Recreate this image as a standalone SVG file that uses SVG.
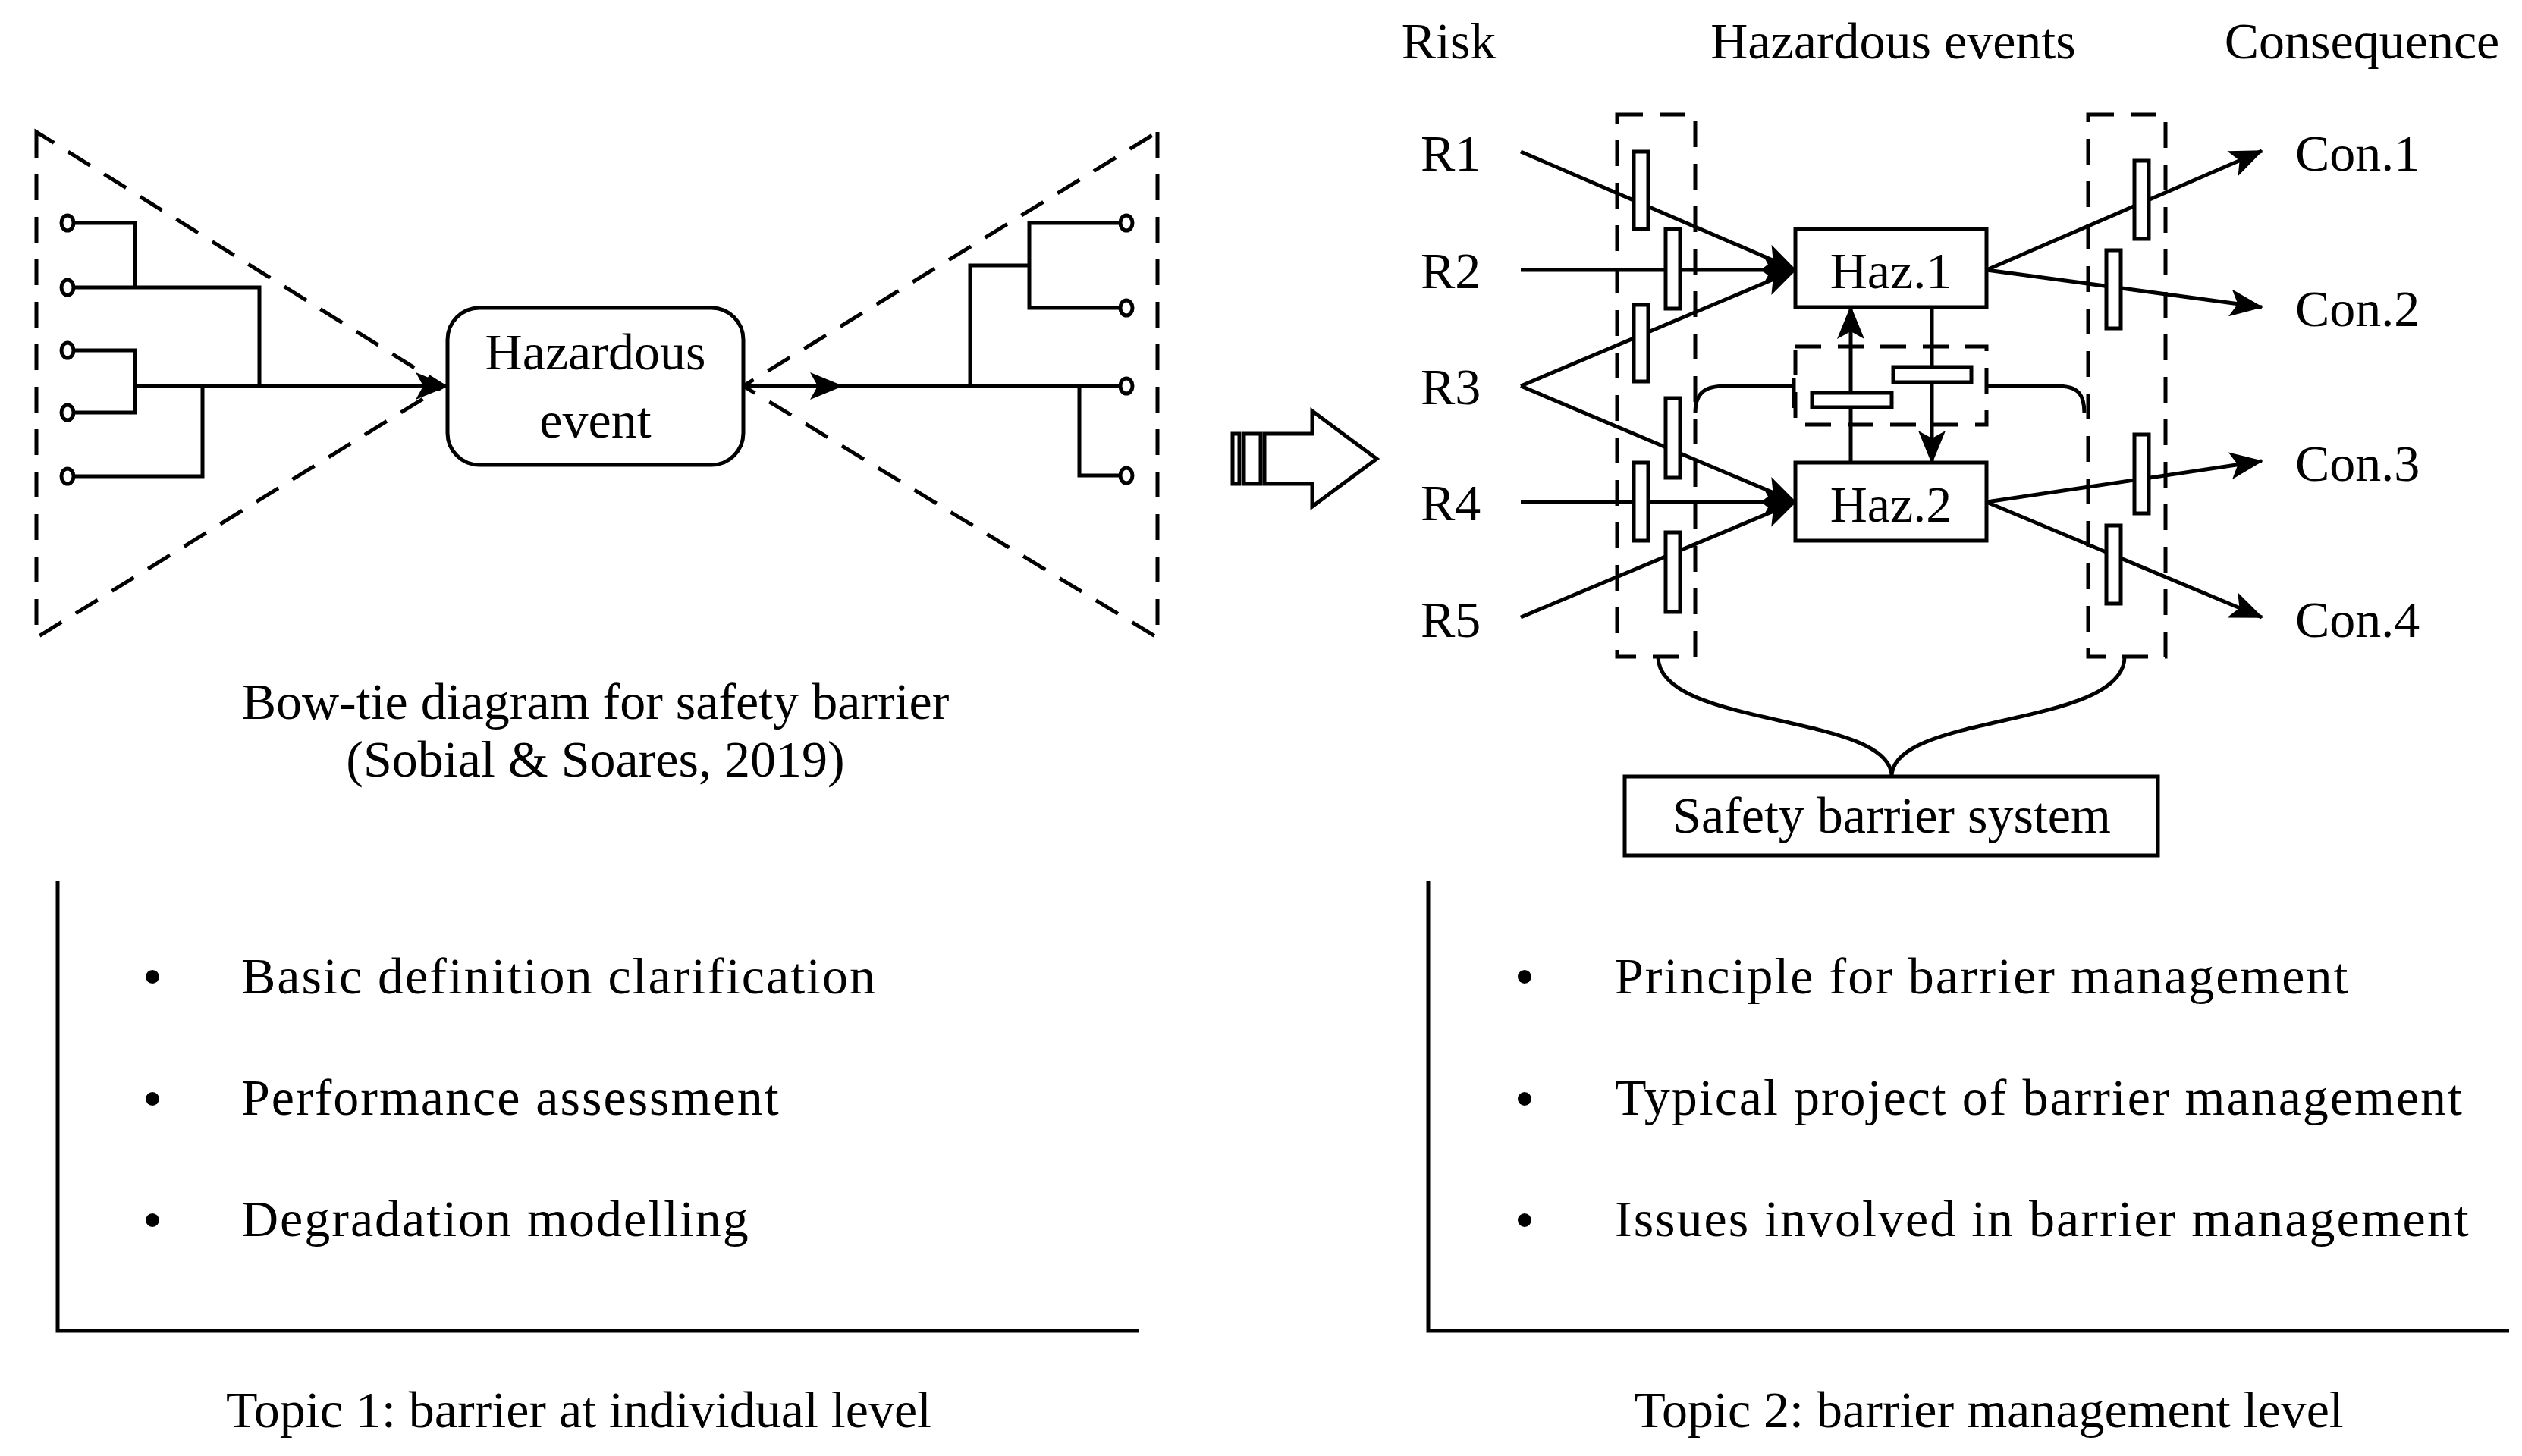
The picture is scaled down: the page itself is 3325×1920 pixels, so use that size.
<svg xmlns="http://www.w3.org/2000/svg" width="3325" height="1920" viewBox="0 0 3325 1920">
<style>
text{font-family:"Liberation Serif","Times New Roman",serif;fill:#000;font-size:68px}
.c{text-anchor:middle}
.s{fill:none;stroke:#000;stroke-width:5}
.t{fill:none;stroke:#000;stroke-width:6}
.d{fill:none;stroke:#000;stroke-width:5;stroke-dasharray:34 22}
.b{fill:#fff;stroke:#000;stroke-width:5}
</style>
<defs>
<marker id="ah" markerUnits="userSpaceOnUse" markerWidth="44" markerHeight="36" refX="42" refY="18" orient="auto"><path d="M0,0 L44,18 L0,36 L10,18 Z" fill="#000"/></marker>
</defs>
<rect width="3325" height="1920" fill="#fff"/>

<g id="bowtie">
<path class="d" d="M48,174 V841 L585,509 Z"/>
<path class="d" d="M1526,174 V841 L980,509 Z"/>
<g class="s">
<path d="M96,294 H178 V379 M96,379 H342 V509 M96,462 H178 V544 H96 M96,628 H267 V509"/>
<path d="M1477,294 H1357 V406 H1477 M1357,350 H1279 V509 M1477,627 H1423 V509"/>
</g>
<g fill="#fff" stroke="#000" stroke-width="5">
<ellipse cx="89" cy="294" rx="8" ry="10"/><ellipse cx="89" cy="379" rx="8" ry="10"/><ellipse cx="89" cy="462" rx="8" ry="10"/><ellipse cx="89" cy="544" rx="8" ry="10"/><ellipse cx="89" cy="628" rx="8" ry="10"/>
<ellipse cx="1485" cy="294" rx="8" ry="10"/><ellipse cx="1485" cy="406" rx="8" ry="10"/><ellipse cx="1485" cy="509" rx="8" ry="10"/><ellipse cx="1485" cy="627" rx="8" ry="10"/>
</g>
<path class="t" d="M178,509 H590" marker-end="url(#ah)"/>
<path class="t" d="M980,509 H1110" marker-end="url(#ah)"/>
<path class="t" d="M1100,509 H1477"/>
</g>
<g id="hazardous-event">
<rect x="590" y="406" width="390" height="207" rx="42" class="b"/>
<text x="785" y="487" class="c">Hazardous</text>
<text x="785" y="577" class="c">event</text>
</g>
<text x="785" y="948" class="c">Bow-tie diagram for safety barrier</text>
<text x="785" y="1024" class="c">(Sobial &amp; Soares, 2019)</text>

<g id="panel1">
<path class="s" d="M76,1162 V1755 H1501"/>
<circle cx="201" cy="1288" r="9"/><circle cx="201" cy="1449" r="9"/><circle cx="201" cy="1609" r="9"/>
<text x="318" y="1310" letter-spacing="2">Basic definition clarification</text>
<text x="318" y="1470" letter-spacing="2">Performance assessment</text>
<text x="318" y="1630" letter-spacing="2">Degradation modelling</text>
<text x="763" y="1882" class="c">Topic 1: barrier at individual level</text>
</g>

<g id="transition-arrow" fill="#fff" stroke="#000" stroke-width="5" stroke-linejoin="miter">
<rect x="1625" y="572" width="9" height="66"/>
<rect x="1640" y="572" width="22" height="66"/>
<path d="M1667,572 H1730 V542 L1815,605 L1730,668 V638 H1667 Z"/>
</g>

<g id="headers">
<text x="1910" y="77" class="c">Risk</text>
<text x="2496" y="77" class="c">Hazardous events</text>
<text x="3114" y="77" class="c">Consequence</text>
</g>
<g id="risks">
<text x="1873" y="225">R1</text><text x="1873" y="380">R2</text><text x="1873" y="533">R3</text><text x="1873" y="686">R4</text><text x="1873" y="840">R5</text>
</g>
<g id="consequences">
<text x="3026" y="225">Con.1</text><text x="3026" y="430">Con.2</text><text x="3026" y="634">Con.3</text><text x="3026" y="840">Con.4</text>
</g>

<g id="connectors">
<path class="s" d="M2005,200 L2367,356" marker-end="url(#ah)"/>
<path class="s" d="M2005,356 L2367,356" marker-end="url(#ah)"/>
<path class="s" d="M2005,509 L2367,356" marker-end="url(#ah)"/>
<path class="s" d="M2005,509 L2367,662" marker-end="url(#ah)"/>
<path class="s" d="M2005,662 L2367,662" marker-end="url(#ah)"/>
<path class="s" d="M2005,814 L2367,662" marker-end="url(#ah)"/>
<path class="s" d="M2619,356 L2982,199" marker-end="url(#ah)"/>
<path class="s" d="M2619,356 L2982,405" marker-end="url(#ah)"/>
<path class="s" d="M2619,662 L2982,608" marker-end="url(#ah)"/>
<path class="s" d="M2619,662 L2982,814" marker-end="url(#ah)"/>
<path class="s" d="M2440,610 V405" marker-end="url(#ah)"/>
<path class="s" d="M2547,405 V610" marker-end="url(#ah)"/>
<path class="s" d="M2235,545 C2235,520 2245,509 2275,509 H2365 M2365,499 V538"/>
<path class="s" d="M2619,509 H2712 C2740,509 2748,520 2748,545"/>
<path class="s" d="M2186,866 C2186,960 2494,940 2494,1024 M2801,866 C2801,960 2494,940 2494,1024"/>
</g>

<g id="barrier-groups">
<rect x="2132" y="151" width="103" height="715" class="d"/>
<rect x="2753" y="151" width="102" height="715" class="d"/>
<rect x="2367" y="457" width="252" height="103" class="d"/>
</g>
<g id="barriers" class="b">
<rect x="2154" y="200" width="19" height="102" class="b"/>
<rect x="2196" y="302" width="19" height="105" class="b"/>
<rect x="2154" y="402" width="19" height="101" class="b"/>
<rect x="2196" y="525" width="19" height="105" class="b"/>
<rect x="2154" y="610" width="19" height="103" class="b"/>
<rect x="2196" y="702" width="19" height="105" class="b"/>
<rect x="2814" y="212" width="19" height="103" class="b"/>
<rect x="2777" y="330" width="19" height="103" class="b"/>
<rect x="2814" y="573" width="19" height="104" class="b"/>
<rect x="2777" y="693" width="19" height="103" class="b"/>
<rect x="2389" y="518" width="105" height="19" class="b"/>
<rect x="2496" y="484" width="103" height="20" class="b"/>
</g>
<g id="haz1"><rect x="2367" y="302" width="252" height="103" class="b"/><text x="2493" y="380" class="c">Haz.1</text></g>
<g id="haz2"><rect x="2367" y="610" width="252" height="103" class="b"/><text x="2493" y="688" class="c">Haz.2</text></g>
<g id="safety-barrier-system"><rect x="2142" y="1024" width="703" height="104" class="b"/><text x="2494" y="1098" class="c">Safety barrier system</text></g>

<g id="panel2">
<path class="s" d="M1883,1162 V1755 H3308"/>
<circle cx="2010" cy="1288" r="9"/><circle cx="2010" cy="1449" r="9"/><circle cx="2010" cy="1609" r="9"/>
<text x="2129" y="1310" letter-spacing="2">Principle for barrier management</text>
<text x="2129" y="1470" letter-spacing="2">Typical project of barrier management</text>
<text x="2129" y="1630" letter-spacing="2">Issues involved in barrier management</text>
<text x="2622" y="1882" class="c">Topic 2: barrier management level</text>
</g>
</svg>
